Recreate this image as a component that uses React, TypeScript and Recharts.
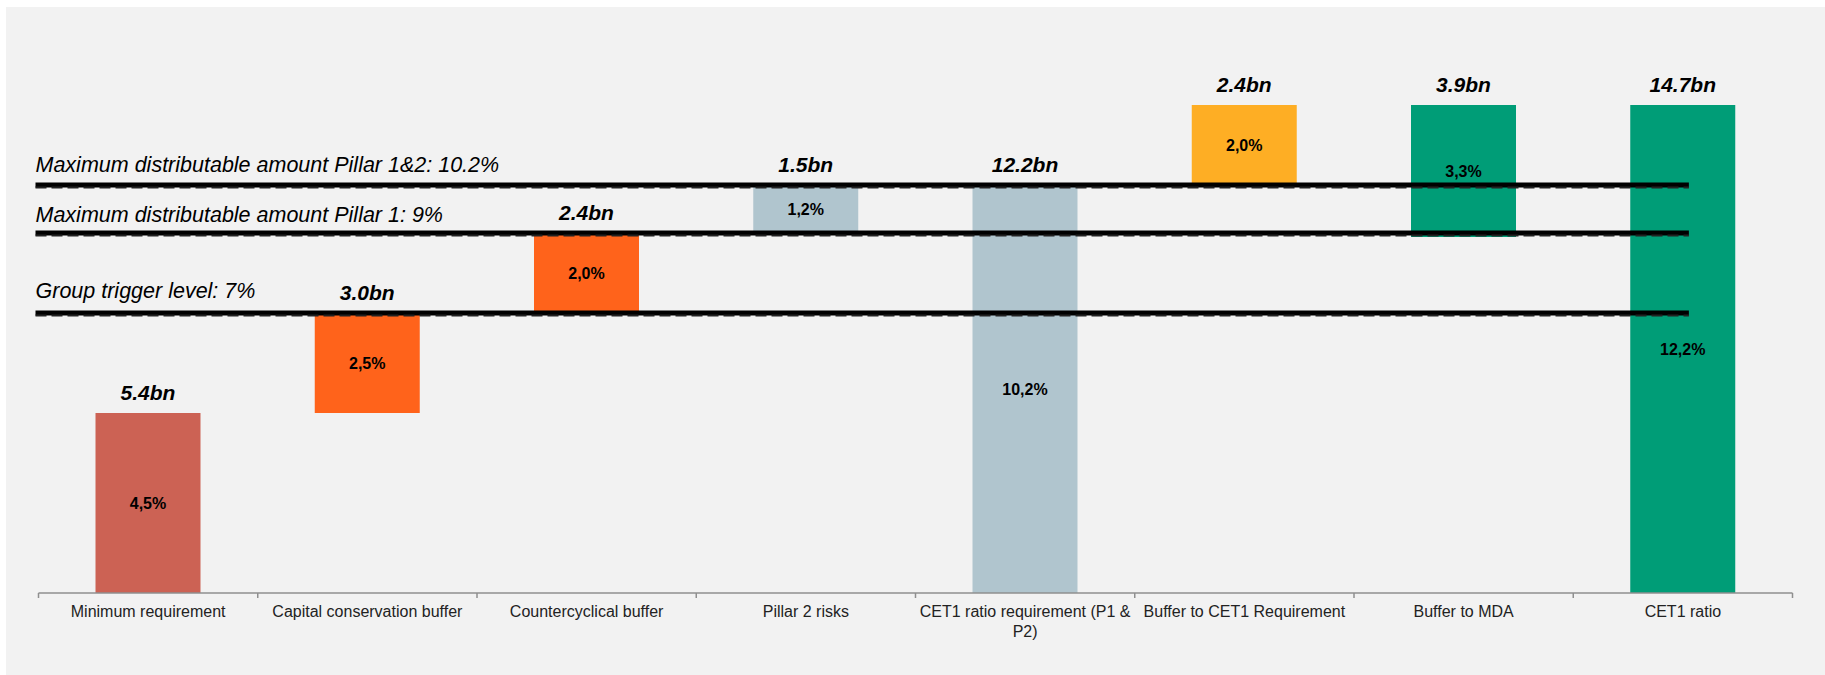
import React from 'react';
import { BarChart, Bar, XAxis, YAxis, Cell, LabelList, ReferenceLine, Text } from 'recharts';

const FONT = '"Liberation Sans", Arial, Helvetica, sans-serif';

// CET1 capital build-up, in % of RWA
const categories = [
  'Minimum requirement',
  'Capital conservation buffer',
  'Countercyclical buffer',
  'Pillar 2 risks',
  'CET1 ratio requirement (P1 & P2)',
  'Buffer to CET1 Requirement',
  'Buffer to MDA',
  'CET1 ratio',
];
const baseValues = [0, 4.5, 7.0, 9.0, 0, 10.2, 8.9, 0];
const ratioValues = [4.5, 2.5, 2.0, 1.2, 10.2, 2.0, 3.3, 12.2];
const amountLabels = ['5.4bn', '3.0bn', '2.4bn', '1.5bn', '12.2bn', '2.4bn', '3.9bn', '14.7bn'];
const barColors = ['#cc6254', '#ff631b', '#ff631b', '#b0c5ce', '#b0c5ce', '#feae24', '#009d77', '#009d77'];

// regulatory thresholds
const thresholdValues = [10.2, 9, 7];
const thresholdLabels = [
  'Maximum distributable amount Pillar 1&2: 10.2%',
  'Maximum distributable amount Pillar 1: 9%',
  'Group trigger level: 7%',
];
const thresholdLabelGap = [13, 11, 15];

const data = categories.map((name, i) => ({
  name,
  base: baseValues[i],
  ratio: ratioValues[i],
  amount: amountLabels[i],
}));

const formatRatio = (v: number) => `${v.toFixed(1).replace('.', ',')}%`;

const LABEL_GAP = 13;

// category label centred in its band, with tick marks on the band edges
const CategoryTick = (props: any) => {
  const { x, y, payload, index } = props;
  const half = payload.offset ?? 0;
  const axisY = y - LABEL_GAP;
  return (
    <g>
      <line x1={x - half} y1={axisY} x2={x - half} y2={axisY + 5} stroke="#8f8f8f" strokeWidth={1.5} />
      {index === categories.length - 1 && (
        <line x1={x + half} y1={axisY} x2={x + half} y2={axisY + 5} stroke="#8f8f8f" strokeWidth={1.5} />
      )}
      <Text
        x={x}
        y={y}
        width={half * 2 - 4}
        textAnchor="middle"
        verticalAnchor="start"
        lineHeight="1.2em"
        fill="#222"
        style={{ fontSize: 16, fontFamily: FONT }}
      >
        {payload.value}
      </Text>
    </g>
  );
};

// thick black rule with a dashed shadow just underneath;
// it stops in the middle of the last category band
const ThresholdLine = (props: any) => {
  const { x1, y1, x2 } = props;
  const end = x2 - (x2 - x1) / (2 * categories.length);
  return (
    <g>
      <line x1={x1 - 3} y1={y1} x2={end + 6} y2={y1} stroke="#000" strokeWidth={5} />
      <line x1={x1 - 3} y1={y1 + 2.5} x2={end + 6} y2={y1 + 2.5} stroke="#222" strokeWidth={2} strokeDasharray="11 5" />
    </g>
  );
};

const ThresholdLabel = (props: any) => {
  const { viewBox, text, gap } = props;
  return (
    <text
      x={viewBox.x - 3}
      y={viewBox.y - gap}
      fill="#000"
      fontSize={21.5}
      fontStyle="italic"
      fontFamily={FONT}
    >
      {text}
    </text>
  );
};

export default function App() {
  return (
    <div style={{ position: 'fixed', left: 6, top: 7, width: 1819, height: 668, background: '#f2f2f2' }}>
      <BarChart
        width={1819}
        height={668}
        data={data}
        margin={{ top: 26, right: 32.5, left: 32.5, bottom: 22 }}
        barSize={105}
      >
        <XAxis
          dataKey="name"
          interval={0}
          height={60}
          tickLine={false}
          tickSize={LABEL_GAP}
          tickMargin={0}
          axisLine={{ stroke: '#8f8f8f', strokeWidth: 1.5 }}
          tick={<CategoryTick />}
        />
        <YAxis hide domain={[0, 14]} />
        <Bar dataKey="base" stackId="w" fill="transparent" isAnimationActive={false} />
        <Bar dataKey="ratio" stackId="w" isAnimationActive={false}>
          {data.map((d, i) => (
            <Cell key={d.name} fill={barColors[i]} />
          ))}
          <LabelList
            dataKey="amount"
            position="top"
            offset={13}
            fill="#000"
            fontSize={21}
            fontWeight="bold"
            fontStyle="italic"
            fontFamily={FONT}
          />
          <LabelList
            dataKey="ratio"
            position="center"
            formatter={(v: any) => formatRatio(Number(v))}
            fill="#000"
            fontSize={16}
            fontWeight="bold"
            fontFamily={FONT}
          />
        </Bar>
        {thresholdValues.map((v, i) => (
          <ReferenceLine
            key={thresholdLabels[i]}
            y={v}
            shape={<ThresholdLine />}
            label={<ThresholdLabel text={thresholdLabels[i]} gap={thresholdLabelGap[i]} />}
          />
        ))}
      </BarChart>
    </div>
  );
}
